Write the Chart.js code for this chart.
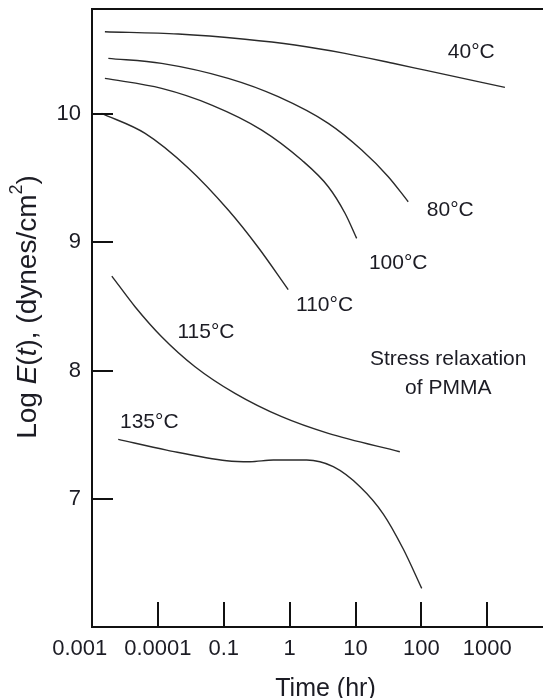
<!DOCTYPE html>
<html>
<head>
<meta charset="utf-8">
<script src="https://cdn.jsdelivr.net/npm/chart.js@4.4.1/dist/chart.umd.min.js"></script>
<style>
  html, body { margin: 0; padding: 0; background: #ffffff; overflow: hidden; }
  canvas { display: block; }
</style>
</head>
<body>
<canvas id="chart" width="543" height="698"></canvas>
<script>
// Time axis: tick positions (hours) and the labels printed under them
const xTickValues = [0.001, 0.01, 0.1, 1, 10, 100, 1000];
const xTickLabels = ['0.001', '0.0001', '0.1', '1', '10', '100', '1000'];
const yTickValues = [7, 8, 9, 10];

// Stress relaxation of PMMA: time (hr) vs log E(t) (dynes/cm²)
const time40  = [0.00157, 0.0204, 0.21, 1.2, 6.9, 40, 113, 1850];
const logE40  = [10.643, 10.625, 10.584, 10.539, 10.474, 10.393, 10.343, 10.209];

const time80  = [0.00177, 0.0114, 0.117, 0.67, 3.86, 12.4, 31.4, 63];
const logE80  = [10.435, 10.396, 10.279, 10.136, 9.928, 9.72, 9.512, 9.317];

const time100 = [0.00157, 0.0114, 0.0656, 0.377, 1.52, 3.86, 6.92, 10.4];
const logE100 = [10.279, 10.201, 10.071, 9.876, 9.642, 9.434, 9.227, 9.031];

const time110 = [0.0014, 0.0064, 0.0289, 0.117, 0.334, 0.95];
const logE110 = [10.006, 9.85, 9.58, 9.252, 8.96, 8.632];

const time115 = [0.002, 0.0045, 0.0114, 0.0366, 0.148, 0.757, 3.86, 47];
const logE115 = [8.737, 8.498, 8.264, 8.03, 7.822, 7.64, 7.51, 7.367];

const time135 = [0.0025, 0.0136, 0.111, 0.25, 0.565, 1.81, 4.59, 11.7, 26.4, 53, 101];
const logE135 = [7.463, 7.38, 7.297, 7.289, 7.302, 7.302, 7.25, 7.094, 6.881, 6.608, 6.301];

const seriesNames = ['40°C', '80°C', '100°C', '110°C', '115°C', '135°C'];
const seriesTimes = [time40, time80, time100, time110, time115, time135];
const seriesLogE  = [logE40, logE80, logE100, logE110, logE115, logE135];

// Curve labels and the figure note, placed in data coordinates
const curveLabels = [
  { text: '40°C',  t: 570,    logE: 10.48 },
  { text: '80°C',  t: 274,    logE: 9.25 },
  { text: '100°C', t: 44.4,   logE: 8.836 },
  { text: '110°C', t: 3.39,   logE: 8.508 },
  { text: '115°C', t: 0.0536, logE: 8.297 },
  { text: '135°C', t: 0.0074, logE: 7.60 },
  { text: 'Stress relaxation', t: 255, logE: 8.086 },
  { text: 'of PMMA', t: 255, logE: 7.859 }
];

const FONT = "'Liberation Sans', Arial, Helvetica, sans-serif";
const INK = '#1c1c24';

const datasets = seriesNames.map((name, i) => ({
  label: name,
  data: seriesTimes[i].map((t, k) => ({ x: t, y: seriesLogE[i][k] })),
  borderColor: '#2a2a2a',
  borderWidth: 1.4,
  pointRadius: 0,
  fill: false,
  cubicInterpolationMode: 'monotone'
}));

// Short tick marks pointing into the plot area
const innerTicks = {
  id: 'innerTicks',
  afterDatasetsDraw(chart) {
    const { ctx, chartArea, scales } = chart;
    ctx.save();
    ctx.strokeStyle = '#111';
    ctx.lineWidth = 2;
    ctx.beginPath();
    scales.x.ticks.forEach(tk => {
      const px = Math.round(scales.x.getPixelForValue(tk.value));
      if (px <= chartArea.left + 2) return;
      ctx.moveTo(px, chartArea.bottom);
      ctx.lineTo(px, chartArea.bottom - 25);
    });
    scales.y.ticks.forEach(tk => {
      const py = Math.round(scales.y.getPixelForValue(tk.value));
      ctx.moveTo(chartArea.left, py);
      ctx.lineTo(chartArea.left + 21, py);
    });
    ctx.stroke();
    ctx.restore();
  }
};

// Curve labels, note, and axis titles (y title mixes italic symbols)
const textLayer = {
  id: 'textLayer',
  afterDraw(chart) {
    const { ctx, chartArea, scales } = chart;
    ctx.save();
    ctx.fillStyle = INK;
    ctx.textAlign = 'center';
    ctx.textBaseline = 'middle';
    ctx.font = `21px ${FONT}`;
    curveLabels.forEach(l => {
      ctx.fillText(l.text, scales.x.getPixelForValue(l.t), scales.y.getPixelForValue(l.logE));
    });

    // x-axis title
    ctx.font = `25px ${FONT}`;
    ctx.fillText('Time (hr)', (chartArea.left + chartArea.right) / 2 + 8, 689);

    // y-axis title, rotated
    const size = 28;
    const normal = `${size}px ${FONT}`;
    const italic = `italic ${size}px ${FONT}`;
    const sup = `${Math.round(size * 0.66)}px ${FONT}`;
    const parts = [
      { s: 'Log ', f: normal, dy: 0 },
      { s: 'E', f: italic, dy: 0 },
      { s: '(', f: normal, dy: 0 },
      { s: 't', f: italic, dy: 0 },
      { s: '), (dynes/cm', f: normal, dy: 0 },
      { s: '2', f: sup, dy: -size * 0.38 },
      { s: ')', f: normal, dy: 0 }
    ];
    let total = 0;
    parts.forEach(p => { ctx.font = p.f; p.w = ctx.measureText(p.s).width; total += p.w; });
    ctx.translate(28, 307);
    ctx.rotate(-Math.PI / 2);
    ctx.textAlign = 'left';
    ctx.textBaseline = 'middle';
    let x = -total / 2;
    parts.forEach(p => {
      ctx.font = p.f;
      ctx.fillText(p.s, x, p.dy);
      x += p.w;
    });
    ctx.restore();
  }
};

const noEdgePadding = s => {
  s.paddingTop = 0; s.paddingBottom = 0; s.paddingLeft = 0; s.paddingRight = 0;
};

new Chart(document.getElementById('chart'), {
  type: 'line',
  data: { datasets },
  options: {
    responsive: false,
    animation: false,
    events: [],
    layout: { padding: 0 },
    plugins: { legend: { display: false }, tooltip: { enabled: false } },
    scales: {
      x: {
        type: 'logarithmic',
        position: 'bottom',
        min: 0.001,
        max: 7000,
        afterBuildTicks: s => { s.ticks = xTickValues.map(v => ({ value: v })); },
        afterFit: s => { s.height = 71; noEdgePadding(s); },
        grid: { display: false, drawTicks: false },
        border: { display: true, color: '#111', width: 2 },
        ticks: {
          autoSkip: false,
          maxRotation: 0,
          padding: 9,
          color: INK,
          font: { family: FONT, size: 22 },
          callback: (v, i) => (i === 0 ? xTickLabels[i] + '\u2007\u2007' : xTickLabels[i])
        }
      },
      xTop: {
        type: 'linear',
        position: 'top',
        min: 0,
        max: 1,
        afterFit: s => { s.height = 9; noEdgePadding(s); },
        grid: { display: false, drawTicks: false },
        border: { display: true, color: '#111', width: 2 },
        ticks: { display: false }
      },
      y: {
        type: 'linear',
        min: 6,
        max: 10.82,
        afterBuildTicks: s => { s.ticks = yTickValues.map(v => ({ value: v })); },
        afterFit: s => { s.width = 92; noEdgePadding(s); },
        grid: { display: false, drawTicks: false },
        border: { display: true, color: '#111', width: 2 },
        ticks: {
          padding: 11,
          color: INK,
          font: { family: FONT, size: 22 },
          callback: v => String(v)
        }
      }
    }
  },
  plugins: [innerTicks, textLayer]
});
</script>
</body>
</html>
